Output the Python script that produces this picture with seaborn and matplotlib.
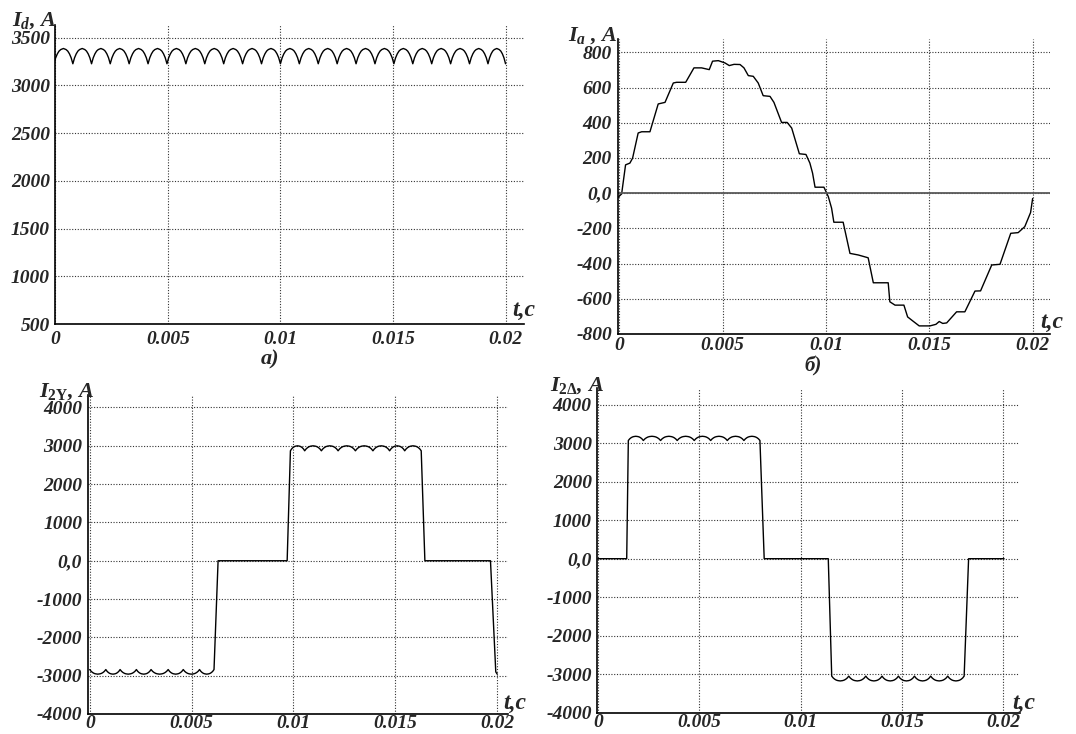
import numpy as np
import pandas as pd
import matplotlib.pyplot as plt
import seaborn as sns

# time axis (seconds)
T_TICKS = [0, 0.005, 0.01, 0.015, 0.02]
T_LABELS = ["0", "0.005", "0.01", "0.015", "0.02"]

# one ripple arc (fraction of the arc -> share of the ripple height)
ARC_FRAC = [0, 0.09, 0.18, 0.27, 0.36, 0.5, 0.64, 0.73, 0.82, 0.91, 1]
ARC_SHAPE = [0, 0.39, 0.65, 0.83, 0.93, 1.0, 0.93, 0.83, 0.65, 0.39, 0]

# a) rectified current Id
ID_CUSPS = [-0.00006, 0.00078, 0.00161, 0.00244, 0.00328, 0.00412, 0.00496, 0.0058,
            0.00664, 0.00748, 0.00832, 0.00916, 0.01, 0.01084, 0.01168, 0.01252,
            0.01336, 0.0142, 0.01504, 0.01588, 0.01672, 0.01756, 0.0184, 0.01922, 0.02]
ID_LOW, ID_HIGH = 3225, 3385
ID_YTICKS = [500, 1000, 1500, 2000, 2500, 3000, 3500]

# б) phase current Ia
IA_T = [-0.0001, 0.00011, 0.0003, 0.00051, 0.00064, 0.00091, 0.00108, 0.00148, 0.00188,
        0.00221, 0.00261, 0.00277, 0.00321, 0.00361, 0.00398, 0.00435, 0.00451, 0.00479,
        0.00511, 0.00532, 0.00555, 0.00584, 0.00603, 0.00624, 0.00648, 0.00672, 0.00696,
        0.00729, 0.00748, 0.00785, 0.00812, 0.00834, 0.00871, 0.00903, 0.00922, 0.00935,
        0.00947, 0.0099, 0.01011, 0.01027, 0.01038, 0.01083, 0.01116, 0.01156, 0.01204,
        0.01229, 0.01301, 0.01309, 0.01334, 0.01377, 0.01395, 0.01419, 0.01451, 0.01503,
        0.01532, 0.01548, 0.01565, 0.01584, 0.01632, 0.01672, 0.01721, 0.01748, 0.01802,
        0.01842, 0.01894, 0.0193, 0.01962, 0.0199, 0.02]
IA_V = [-28, -4, 161, 171, 199, 342, 349, 349, 507,
        516, 626, 630, 630, 712, 712, 702, 750, 753,
        740, 725, 732, 731, 712, 668, 664, 626, 554,
        550, 516, 402, 402, 370, 224, 220, 171, 114,
        34, 34, -19, -85, -165, -165, -342, -351, -367,
        -509, -509, -617, -636, -636, -703, -725, -754, -754,
        -745, -729, -740, -737, -674, -674, -556, -555, -408,
        -404, -228, -224, -190, -110, -30]
IA_YTICKS = [-800, -600, -400, -200, 0, 200, 400, 600, 800]
IA_YLABELS = ["-800", "-600", "-400", "-200", "0,0", "200", "400", "600", "800"]

# secondary currents, star winding I2Y
I2Y_LOW_CUSPS = [0.0, 0.00079, 0.00149, 0.00229, 0.00301, 0.00385, 0.00459, 0.00539, 0.0061]
I2Y_LOW = (-2840, -2960)
I2Y_MID_T = [0.0063, 0.00969]
I2Y_HIGH_CUSPS = [0.00985, 0.01055, 0.01137, 0.01219, 0.01304, 0.0139, 0.01472, 0.01546, 0.01627]
I2Y_HIGH = (2870, 3000)
I2Y_END_T = [0.01645, 0.01967, 0.01993, 0.02]
I2Y_END_V = [0, 0, -2900, -2960]

# secondary currents, delta winding I2Δ
I2D_START_T = [0.0, 0.00142]
I2D_HIGH_CUSPS = [0.0015, 0.00224, 0.00309, 0.00391, 0.00475, 0.00556, 0.00638, 0.0072, 0.00799]
I2D_HIGH = (3070, 3180)
I2D_MID_T = [0.0082, 0.01136]
I2D_LOW_CUSPS = [0.01153, 0.01237, 0.01321, 0.01401, 0.01482, 0.01561, 0.01641, 0.01725, 0.01806]
I2D_LOW = (-3050, -3175)
I2D_END_T = [0.01828, 0.02003]

I2_YTICKS = [-4000, -3000, -2000, -1000, 0, 1000, 2000, 3000, 4000]
I2_YLABELS = ["-4000", "-3000", "-2000", "-1000", "0,0", "1000", "2000", "3000", "4000"]


def arcs(cusps, lo, hi):
    # repeat the read arc shape between neighbouring cusps
    t, v = [], []
    for a, b in zip(cusps[:-1], cusps[1:]):
        for f, s in zip(ARC_FRAC[:-1], ARC_SHAPE[:-1]):
            t.append(a + f * (b - a))
            v.append(lo + s * (hi - lo))
    t.append(cusps[-1])
    v.append(lo)
    return t, v


id_t, id_v = arcs(ID_CUSPS, ID_LOW, ID_HIGH)

lo_t, lo_v = arcs(I2Y_LOW_CUSPS, *I2Y_LOW)
hi_t, hi_v = arcs(I2Y_HIGH_CUSPS, *I2Y_HIGH)
i2y_t = lo_t + I2Y_MID_T + hi_t + I2Y_END_T
i2y_v = lo_v + [0, 0] + hi_v + I2Y_END_V

hi_t, hi_v = arcs(I2D_HIGH_CUSPS, *I2D_HIGH)
lo_t, lo_v = arcs(I2D_LOW_CUSPS, *I2D_LOW)
i2d_t = I2D_START_T + hi_t + I2D_MID_T + lo_t + I2D_END_T
i2d_v = [0, 0] + hi_v + [0, 0] + lo_v + [0, 0]

sns.set_style("white")
plt.rcParams["font.family"] = ["Liberation Serif", "DejaVu Serif"]
plt.rcParams["mathtext.fontset"] = "custom"
plt.rcParams["mathtext.it"] = "Liberation Serif:italic:bold"
plt.rcParams["mathtext.rm"] = "Liberation Serif:bold"
plt.rcParams["mathtext.bf"] = "Liberation Serif:bold"

W, H = 1076, 734
fig = plt.figure(figsize=(W / 100, H / 100), dpi=100)
FONT = dict(fontweight="bold", fontstyle="italic")


def panel(rect, t, v, xlim, ylim, yticks, ylabels, xpad=5):
    ax = fig.add_axes(rect)
    sns.lineplot(x=t, y=v, ax=ax, color="black", linewidth=1.0, estimator=None, sort=False)
    ax.set_xlim(xlim)
    ax.set_ylim(ylim)
    ax.set_xticks(T_TICKS)
    ax.set_xticklabels(T_LABELS, fontsize=14, **FONT)
    ax.set_yticks(yticks)
    ax.set_yticklabels(ylabels, fontsize=14, **FONT)
    ax.tick_params(axis="y", length=0, pad=4)
    ax.tick_params(axis="x", length=0, pad=xpad)
    ax.grid(True, color="0.2", linestyle=(0, (1, 1.5)), linewidth=0.8)
    ax.spines["top"].set_visible(False)
    ax.spines["right"].set_visible(False)
    for s in ["left", "bottom"]:
        ax.spines[s].set_color("black")
        ax.spines[s].set_linewidth(1.2)
    ax.set_xlabel("")
    ax.set_ylabel("")
    return ax


def label(x, y, s, size=16, ha="left"):
    fig.text(x / W, 1 - y / H, s, fontsize=size, ha=ha, va="baseline", **FONT)


# a) Id
panel([55.3 / W, 1 - 324 / H, 468.7 / W, 299 / H], id_t, id_v,
      (0, 0.02082), (500, 3631), ID_YTICKS, [str(y) for y in ID_YTICKS])
label(12, 26, r"$I_d$, A")
label(512, 316, "t,c", 17)
label(270, 364, "а)", 16, "center")

# б) Ia
ax = panel([617.5 / W, 1 - 334 / H, 432.5 / W, 295 / H], IA_T, IA_V,
           (-0.00009, 0.02084), (-800, 876), IA_YTICKS, IA_YLABELS, xpad=2)
ax.axhline(0, color="0.35", linewidth=1.3)
label(568, 41, r"$I_a$ , A")
label(1040, 328, "t,c", 17)
label(813, 371, "б)", 15, "center")

# I2Y
panel([87.7 / W, 1 - 714 / H, 420.3 / W, 319 / H], i2y_t, i2y_v,
      (-0.0001, 0.02053), (-4000, 4326), I2_YTICKS, I2_YLABELS, xpad=1)
label(39, 397, r"$I_{2\mathrm{Y}}$, A")
label(503, 709, "t,c", 17)

# I2Δ
panel([597.3 / W, 1 - 712.7 / H, 422.2 / W, 324.7 / H], i2d_t, i2d_v,
      (-0.00003, 0.02079), (-4000, 4434), I2_YTICKS, I2_YLABELS, xpad=1)
label(550, 391, r"$I_{2\Delta}$, A")
label(1012, 709, "t,c", 17)

fig.savefig("out.png", dpi=100)
